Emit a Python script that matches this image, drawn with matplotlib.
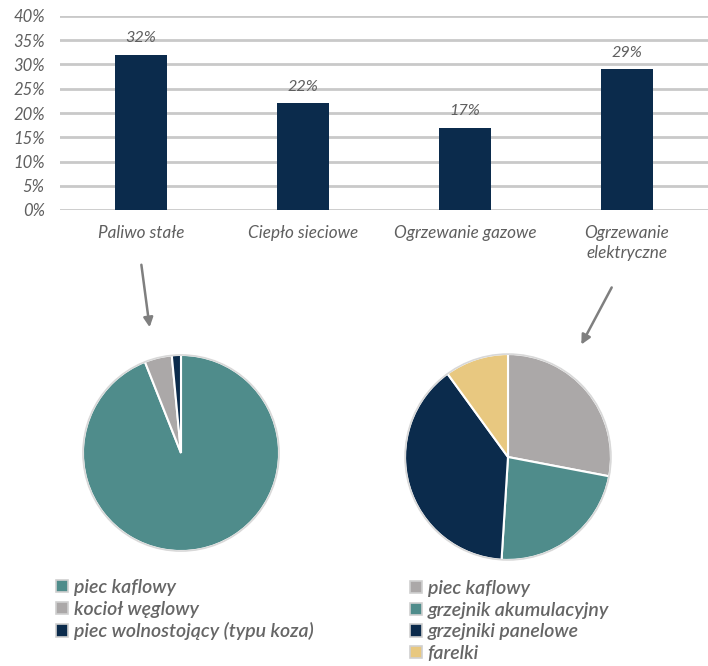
import matplotlib
matplotlib.use('Agg')
import matplotlib.pyplot as plt
from matplotlib.patches import Patch, FancyArrowPatch
from matplotlib.ticker import PercentFormatter

categories = ["Paliwo stałe", "Ciepło sieciowe", "Ogrzewanie gazowe", "Ogrzewanie\nelektryczne"]
shares = [32, 22, 17, 29]
y_ticks = [0, 5, 10, 15, 20, 25, 30, 35, 40]

solid_labels = ["piec kaflowy", "kocioł węglowy", "piec wolnostojący (typu koza)"]
solid_values = [94.0, 4.5, 1.5]

electric_labels = ["piec kaflowy", "grzejnik akumulacyjny", "grzejniki panelowe", "farelki"]
electric_values = [28, 23, 39, 10]

NAVY = "#0b2b4c"
TEAL = "#4f8c8b"
GREY = "#aba8a8"
SAND = "#e8c880"
TXT = "#5f5f5f"

plt.rcParams['font.family'] = ['Lato', 'DejaVu Sans']
plt.rcParams['font.style'] = 'italic'

W, H = 708, 666
fig = plt.figure(figsize=(W / 100, H / 100), dpi=100)


def px_axes(x0, y0, x1, y1):
    return fig.add_axes([x0 / W, 1 - y1 / H, (x1 - x0) / W, (y1 - y0) / H])


# bar chart
ax = px_axes(60, 16, 708, 210)
xs = range(len(categories))
bars = ax.bar(xs, shares, width=0.32, color=NAVY, zorder=3)
for b, v in zip(bars, shares):
    ax.annotate(f"{v}%", (b.get_x() + b.get_width() / 2, v), xytext=(0, 7),
                textcoords='offset points', ha='center', va='bottom',
                fontsize=11.7, color=TXT, style='italic')
ax.set_xlim(-0.5, len(categories) - 0.5)
ax.set_ylim(0, 40)
ax.set_yticks(y_ticks)
ax.yaxis.set_major_formatter(PercentFormatter(decimals=0))
ax.set_xticks(list(xs))
ax.set_xticklabels(categories, linespacing=1.25)
ax.tick_params(axis='both', length=0, colors=TXT)
ax.tick_params(axis='x', pad=11, labelsize=12.3)
ax.tick_params(axis='y', pad=11, labelsize=12)
ax.grid(axis='y', color='#c9c9c9', lw=2, zorder=0)
for s in ax.spines.values():
    s.set_visible(False)

# arrows
for start, end in [((141, 262), (150, 330)), ((613, 285), (580, 347))]:
    arr = FancyArrowPatch((start[0] / W, 1 - start[1] / H), (end[0] / W, 1 - end[1] / H),
                          transform=fig.transFigure, arrowstyle='-|>', mutation_scale=14,
                          color='#7f7f7f', lw=1.8)
    fig.patches.append(arr)


def draw_pie(box, values, colors, labels, leg_xy):
    pax = px_axes(*box)
    wedges, _ = pax.pie(values, colors=colors, startangle=90, counterclock=False,
                        wedgeprops=dict(edgecolor='white', linewidth=1.5))
    pax.add_patch(plt.Circle((0, 0), 1.0, fill=False, ec='#d8d8d8', lw=1.2))
    pax.set_xlim(-1.02, 1.02)
    pax.set_ylim(-1.02, 1.02)
    handles = [Patch(facecolor=c, edgecolor='#d0d0d0', lw=1.2) for c in colors]
    fig.legend(handles, labels, loc='upper left',
               bbox_to_anchor=(leg_xy[0] / W, 1 - leg_xy[1] / H),
               frameon=False, prop=dict(size=14, weight='semibold', style='italic'),
               labelcolor='#666666',
               handlelength=0.6, handleheight=0.6, handletextpad=0.3,
               labelspacing=0.24, borderaxespad=0, borderpad=0)


draw_pie((81, 353, 281, 553), solid_values, [TEAL, GREY, NAVY], solid_labels, (56, 579))
draw_pie((403, 352, 613, 562), electric_values, [GREY, TEAL, NAVY, SAND], electric_labels, (410, 580))

fig.savefig("out.png", dpi=100)
